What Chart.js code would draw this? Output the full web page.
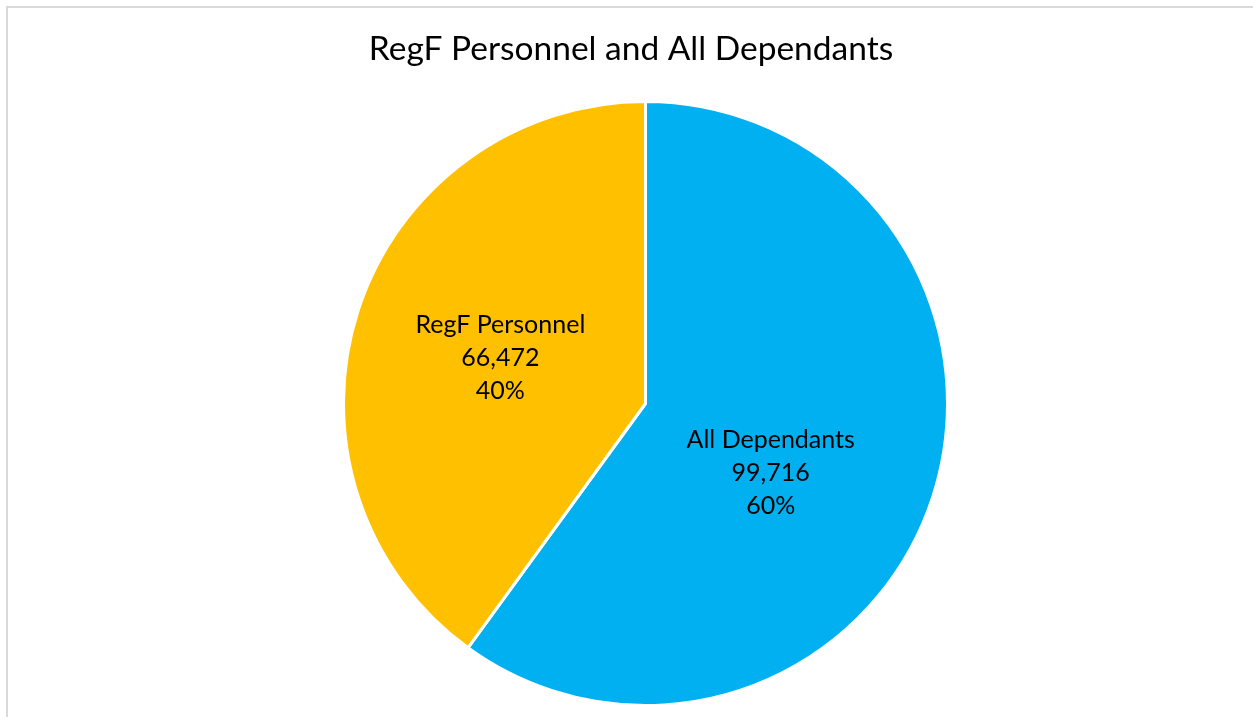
<!DOCTYPE html>
<html>
<head>
<meta charset="utf-8">
<script src="https://cdn.jsdelivr.net/npm/chart.js@4"></script>
<style>
  html, body { margin: 0; padding: 0; width: 1253px; height: 717px; overflow: hidden; background: #fff; }
  #frame { position: absolute; left: 6px; top: 6px; width: 1400px; height: 900px; border: 2px solid #d9d9d9; box-sizing: border-box; }
  #wrap { position: absolute; left: 0; top: 0; width: 1253px; height: 717px; }
</style>
</head>
<body>
<div id="frame"></div>
<div id="wrap"><canvas id="c" width="1253" height="717"></canvas></div>
<script>
const chartTitle = "RegF Personnel and All Dependants";
const categories = ["All Dependants", "RegF Personnel"];
const values = [99716, 66472];
const colors = ["#00B0F0", "#FFC000"];

// label placement styling (angle nudge in degrees, radius fraction)
const labelNudgeDeg = [11, -0.5];
const labelRadiusFrac = [0.474, 0.504];

const FONT = "Lato, 'Open Sans', sans-serif";

const labelPlugin = {
  id: 'sliceLabels',
  afterDatasetsDraw(chart) {
    const ctx = chart.ctx;
    const meta = chart.getDatasetMeta(0);
    const total = values.reduce((a, b) => a + b, 0);
    ctx.save();
    ctx.fillStyle = "#000";
    ctx.textAlign = "center";
    ctx.textBaseline = "middle";
    ctx.font = "25px " + FONT;
    meta.data.forEach((arc, i) => {
      const p = arc.getProps(['x', 'y', 'startAngle', 'endAngle', 'outerRadius'], true);
      const mid = (p.startAngle + p.endAngle) / 2 + labelNudgeDeg[i] * Math.PI / 180;
      const r = p.outerRadius * labelRadiusFrac[i];
      const cx = p.x + Math.cos(mid) * r;
      const cy = p.y + Math.sin(mid) * r;
      const lines = [
        categories[i],
        values[i].toLocaleString('en-US'),
        Math.round(values[i] / total * 100) + "%"
      ];
      const lh = 33;
      lines.forEach((t, k) => ctx.fillText(t, cx, cy + (k - 1) * lh));
    });
    ctx.restore();
  }
};

const titlePlugin = {
  id: 'titleText',
  afterDraw(chart) {
    const ctx = chart.ctx;
    ctx.save();
    ctx.fillStyle = "#000";
    ctx.textAlign = "center";
    ctx.textBaseline = "alphabetic";
    ctx.font = "33.5px " + FONT;
    ctx.fillText(chartTitle, 631, 60);
    ctx.restore();
  }
};

new Chart(document.getElementById('c'), {
  type: 'pie',
  data: {
    labels: categories,
    datasets: [{
      data: values,
      backgroundColor: colors,
      borderColor: "#ffffff",
      borderWidth: 3,
      hoverOffset: 0,
      offset: 0
    }]
  },
  options: {
    responsive: false,
    animation: false,
    events: [],
    layout: { padding: { top: 100, bottom: 10, left: 341, right: 303 } },
    plugins: {
      legend: { display: false },
      title: { display: false },
      tooltip: { enabled: false }
    }
  },
  plugins: [labelPlugin, titlePlugin]
});
</script>
</body>
</html>
